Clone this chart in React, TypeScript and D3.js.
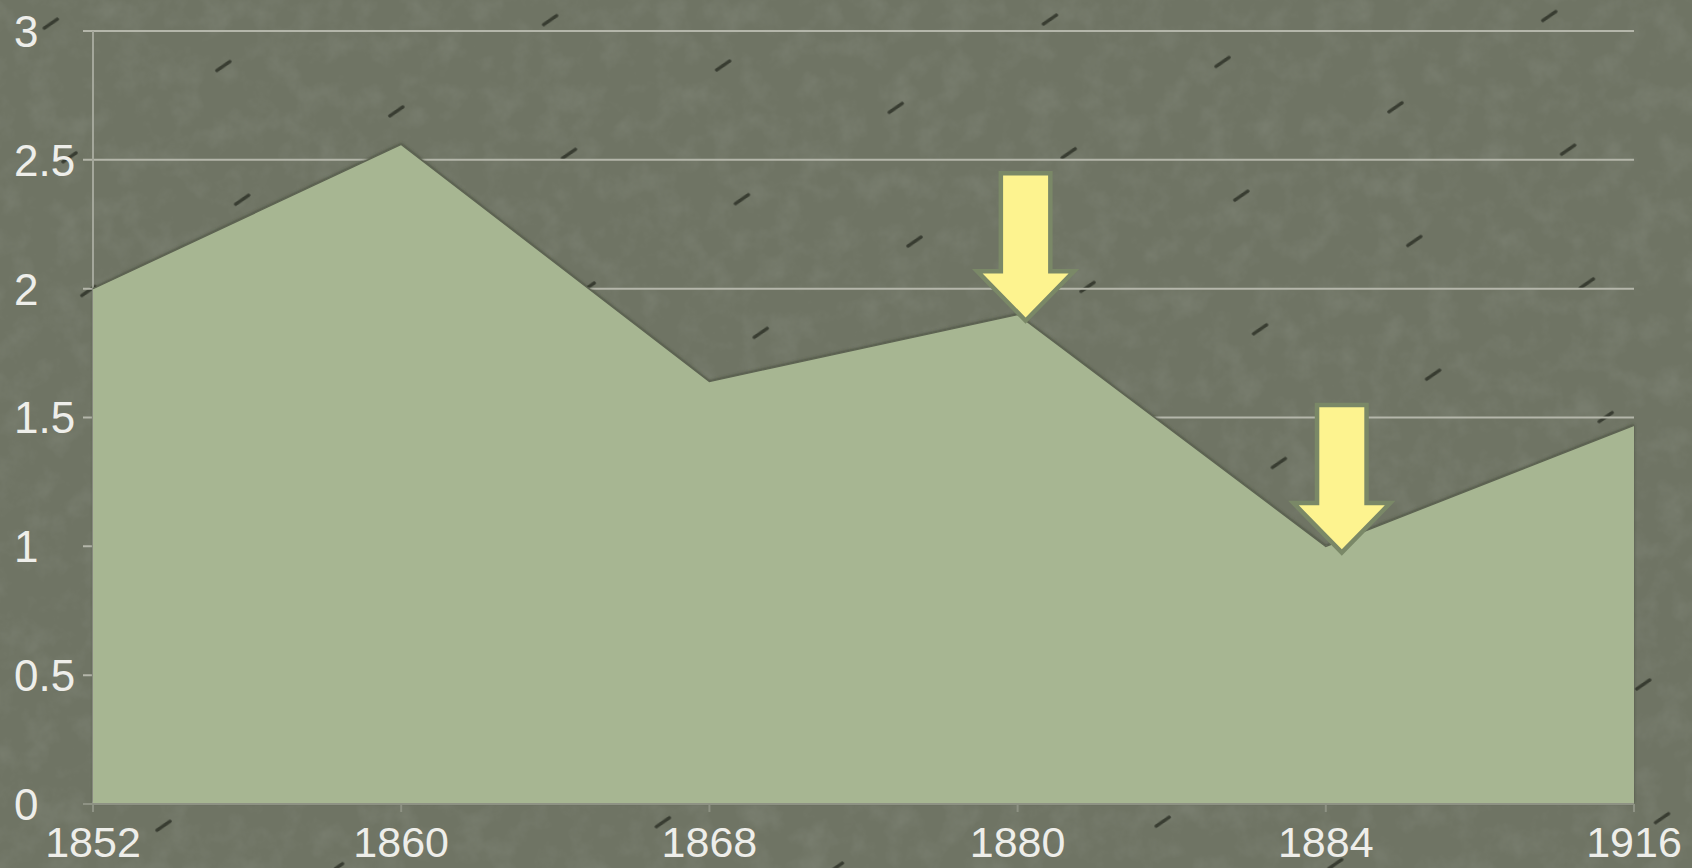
import React from 'react';
import * as d3 from 'd3';

const categories = ['1852', '1860', '1868', '1880', '1884', '1916'];
const values = [2.0, 2.56, 1.64, 1.9, 1.0, 1.47];
const yTicks = [0, 0.5, 1, 1.5, 2, 2.5, 3];
const arrowTargets = ['1880', '1884'];

const W = 1692;
const H = 868;
const M = { left: 93, right: 58, top: 31, bottom: 64 };

export default function App() {
  const x = d3.scalePoint<string>().domain(categories).range([M.left, W - M.right]);
  const y = d3.scaleLinear().domain([0, 3]).range([H - M.bottom, M.top]);
  const pts = categories.map((c, i) => ({ c, v: values[i] }));
  const area = d3.area<{ c: string; v: number }>()
    .x(d => x(d.c) as number)
    .y0(y(0))
    .y1(d => y(d.v));
  const line = d3.line<{ c: string; v: number }>()
    .x(d => x(d.c) as number)
    .y(d => y(d.v));

  const arrowPath = (tx: number, ty: number) => {
    const sw = 22.5, hw = 43, hh = 44, sl = 98;
    const p = [
      [tx - sw, ty - hh - sl],
      [tx + sw, ty - hh - sl],
      [tx + sw, ty - hh],
      [tx + hw, ty - hh],
      [tx, ty],
      [tx - hw, ty - hh],
      [tx - sw, ty - hh],
    ];
    return 'M' + p.map(q => q.join(',')).join('L') + 'Z';
  };

  const font = '"Liberation Sans", Arial, sans-serif';

  return (
    <div style={{ position: 'absolute', left: 0, top: 0, width: W, height: H, overflow: 'hidden' }}>
      <svg width={W} height={H} style={{ display: 'block' }}>
        <defs>
          <filter id="grain" x="0" y="0" width="100%" height="100%">
            <feTurbulence type="fractalNoise" baseFrequency="0.035" numOctaves="4" seed="7" />
            <feColorMatrix type="matrix" values="0 0 0 0 0.25  0 0 0 0 0.27  0 0 0 0 0.22  0 0 0 -2.2 1.25" />
          </filter>
          <filter id="shadow" x="-5%" y="-5%" width="110%" height="110%">
            <feDropShadow dx="0" dy="-1" stdDeviation="1.5" floodColor="#3f4436" floodOpacity="0.8" />
          </filter>
          <pattern id="dashes" width="330" height="135" patternUnits="userSpaceOnUse" patternTransform="rotate(-8)">
            <line x1="40" y1="34" x2="54" y2="27" stroke="#2a2e24" strokeWidth="3.5" strokeLinecap="round" opacity="0.8" />
            <line x1="205" y1="100" x2="219" y2="93" stroke="#2a2e24" strokeWidth="3.5" strokeLinecap="round" opacity="0.8" />
          </pattern>
        </defs>
        <rect width={W} height={H} fill="#6f7464" />
        <rect width={W} height={H} filter="url(#grain)" opacity="0.35" />
        <rect width={W} height={H} fill="url(#dashes)" />

        {yTicks.filter(t => t > 0).map(t => (
          <line key={t} x1={M.left - 10} x2={W - M.right} y1={y(t)} y2={y(t)} stroke="#b4b6aa" strokeWidth={2} />
        ))}
        <line x1={M.left} x2={M.left} y1={y(3)} y2={y(0)} stroke="#a4a79b" strokeWidth={2} />

        <path d={area(pts) as string} fill="#a7b692" filter="url(#shadow)" />
        <path d={line(pts) as string} fill="none" stroke="#5d6352" strokeWidth={1.5} />

        <line x1={M.left - 10} x2={W - M.right} y1={y(0)} y2={y(0)} stroke="#8e9284" strokeWidth={2} />
        {categories.map(c => (
          <line key={c} x1={x(c) as number} x2={x(c) as number} y1={y(0)} y2={y(0) + 8} stroke="#8e9284" strokeWidth={2} />
        ))}

        {yTicks.map(t => (
          <text key={t} x={14} y={y(t)} dy="0.36em" fontFamily={font} fontSize={44} fill="#eeeeea">{String(t)}</text>
        ))}
        {categories.map(c => (
          <text key={c} x={x(c) as number} y={857} textAnchor="middle" fontFamily={font} fontSize={43} fill="#eeeeea">{c}</text>
        ))}

        {arrowTargets.map((c, i) => {
          const v = values[categories.indexOf(c)];
          const tx = (x(c) as number) + (i === 0 ? 8 : 16);
          const ty = y(v) + 3;
          return (
            <path key={c} d={arrowPath(tx, ty)} fill="#fdf38f" stroke="#7a8867" strokeWidth={9} strokeLinejoin="miter" paintOrder="stroke" />
          );
        })}
      </svg>
    </div>
  );
}
